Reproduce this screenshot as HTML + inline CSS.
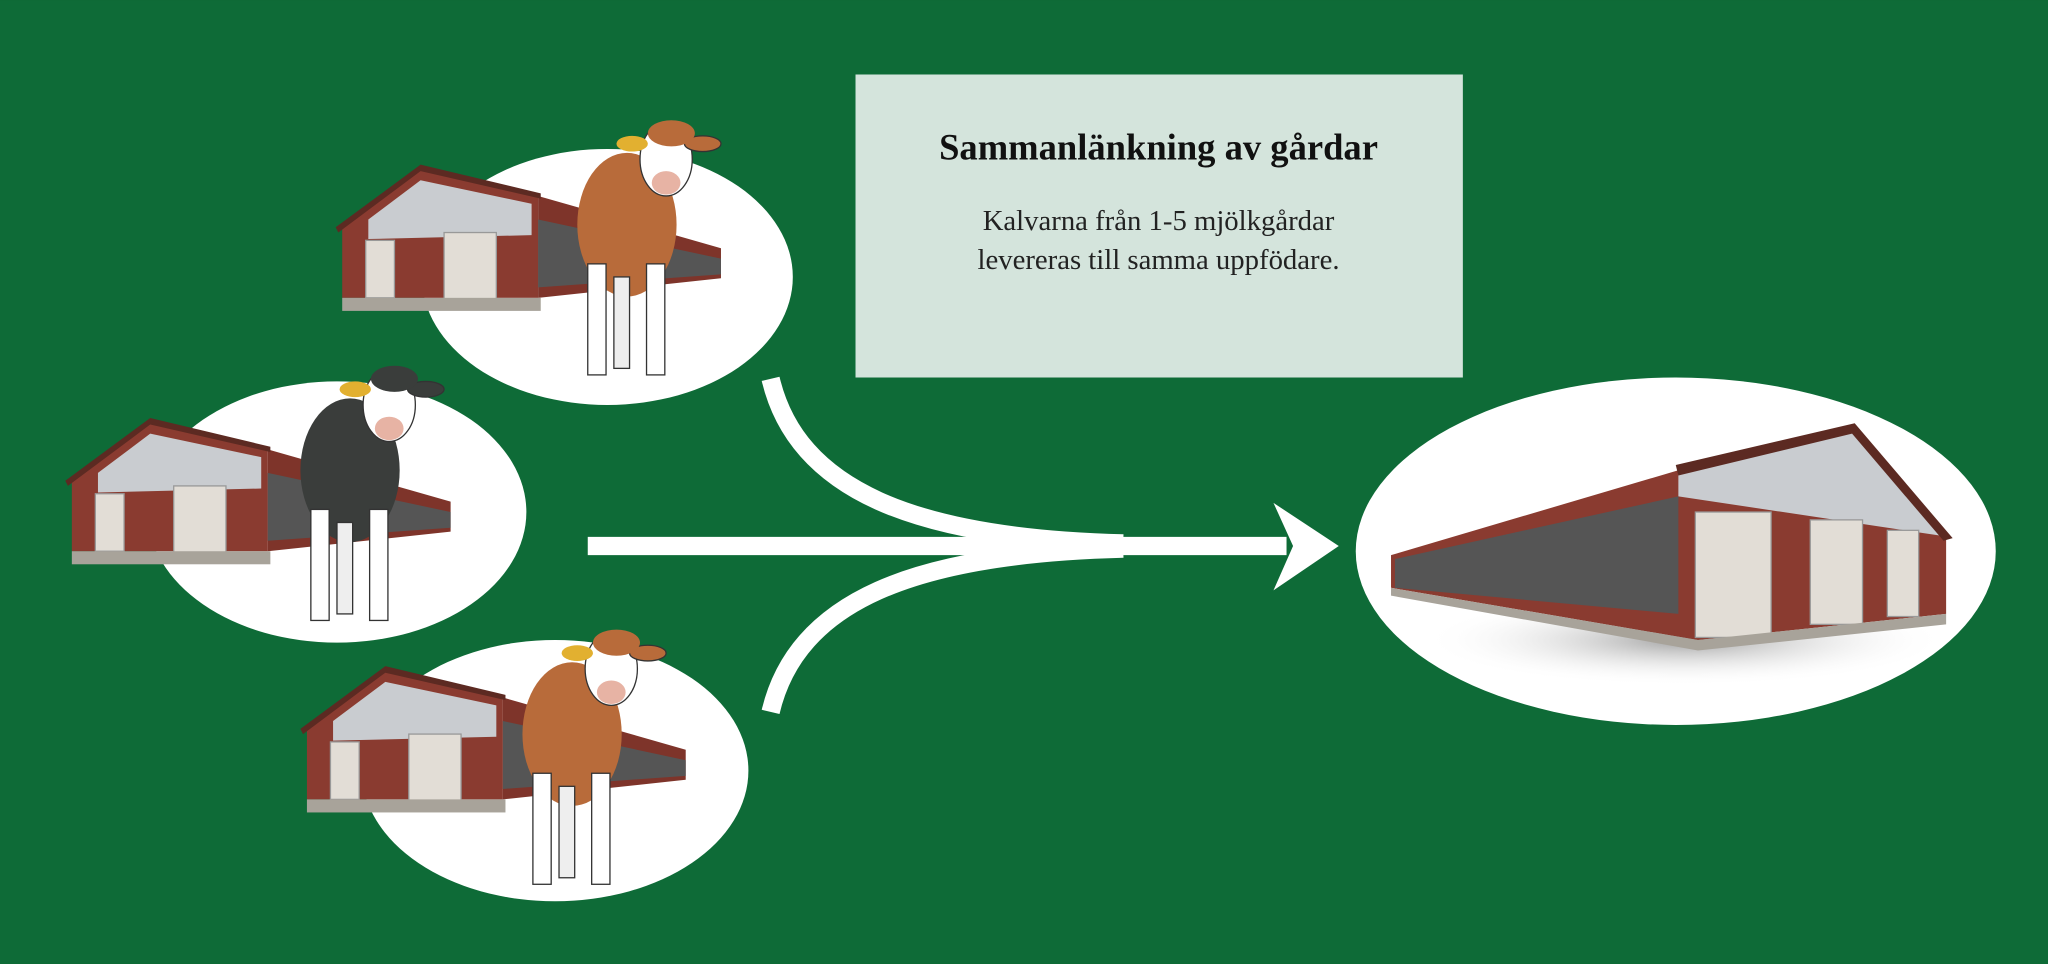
<!DOCTYPE html>
<html><head><meta charset="utf-8"><style>
html,body{margin:0;padding:0;background:#0e6b37;}
svg{display:block}
</style></head><body>
<svg width="2048" height="964" viewBox="0 0 1568 738" xmlns="http://www.w3.org/2000/svg">
<defs>
<radialGradient id="sh" cx="0.5" cy="0.5" r="0.5">
<stop offset="0" stop-color="#777" stop-opacity="0.7"/><stop offset="1" stop-color="#fff" stop-opacity="0"/>
</radialGradient>
<g id="barn">
<polygon points="0,45 60,0 150,22 150,100 0,100" fill="#8a3b30"/>
<polygon points="20,40 60,10 145,28 145,52 20,55" fill="#c9ccd0"/>
<polygon points="150,22 290,62 290,85 150,100" fill="#7e342a"/>
<polygon points="150,40 290,70 290,82 150,92" fill="#555"/>
<polygon points="-5,46 60,-2 152,20 152,24 60,3 -3,50" fill="#5c2a22"/>
<rect x="18" y="56" width="22" height="44" fill="#e2ddd6" stroke="#999"/>
<rect x="78" y="50" width="40" height="52" fill="#e2ddd6" stroke="#999"/>
<rect x="0" y="100" width="152" height="10" fill="#a8a39a"/>
</g>
<g id="cow">
<ellipse cx="40" cy="80" rx="38" ry="55" fill="currentColor"/>
<rect x="10" y="110" width="14" height="85" fill="#fff" stroke="#333"/>
<rect x="55" y="110" width="14" height="85" fill="#fff" stroke="#333"/>
<rect x="30" y="120" width="12" height="70" fill="#eee" stroke="#333"/>
<ellipse cx="70" cy="30" rx="20" ry="28" fill="#fff" stroke="#333"/>
<ellipse cx="70" cy="48" rx="11" ry="9" fill="#e7b3a4"/>
<ellipse cx="98" cy="18" rx="14" ry="6" fill="currentColor" stroke="#333"/>
<ellipse cx="44" cy="18" rx="12" ry="6" fill="#e2b030"/>
<ellipse cx="74" cy="10" rx="18" ry="10" fill="currentColor"/>
</g>
</defs>
<rect width="1568" height="738" fill="#0e6b37"/>
<ellipse cx="465" cy="212" rx="142" ry="98" fill="#fff"/>
<ellipse cx="258" cy="392" rx="145" ry="100" fill="#fff"/>
<ellipse cx="425" cy="590" rx="148" ry="100" fill="#fff"/>
<ellipse cx="1283" cy="422" rx="245" ry="133" fill="#fff"/>
<ellipse cx="1290" cy="490" rx="200" ry="35" fill="url(#sh)"/>
<use href="#barn" x="262" y="128"/>
<use href="#barn" x="55" y="322"/>
<use href="#barn" x="235" y="512"/>
<use href="#cow" x="440" y="92" style="color:#b86b3a"/>
<use href="#cow" x="228" y="280" style="color:#3a3d3b"/>
<use href="#cow" x="398" y="482" style="color:#b86b3a"/>
<polygon points="1065,425 1285,360 1420,328 1490,412 1490,470 1300,490 1065,450" fill="#8a3b30"/>
<polygon points="1285,360 1420,328 1485,410 1285,380" fill="#c9ccd0"/>
<polygon points="1068,428 1285,380 1285,470 1068,450" fill="#555"/>
<polygon points="1283,356 1420,324 1495,412 1488,414 1418,332 1285,364" fill="#5c2a22"/>
<rect x="1298" y="392" width="58" height="96" fill="#e2ddd6" stroke="#999"/>
<rect x="1386" y="398" width="40" height="80" fill="#e2ddd6" stroke="#999"/>
<rect x="1445" y="406" width="24" height="66" fill="#e2ddd6" stroke="#999"/>
<polygon points="1065,450 1300,490 1490,470 1490,478 1300,498 1065,456" fill="#a8a39a"/>
<g fill="none" stroke="#fff" stroke-width="14">
<line x1="450" y1="418" x2="985" y2="418"/>
<path d="M590,290 C610,375 700,412 860,416"/>
<path d="M590,545 C610,460 700,424 860,420"/>
</g>
<polygon points="975,385 1025,418 975,452 990,418" fill="#fff"/>
<rect x="655" y="57" width="465" height="232" fill="#d4e4dc"/>
<text x="887" y="122" text-anchor="middle" font-family="Liberation Serif, serif" font-weight="bold" font-size="28" fill="#111">Sammanlänkning av gårdar</text>
<text x="887" y="176" text-anchor="middle" font-family="Liberation Serif, serif" font-size="22" fill="#222">Kalvarna från 1-5 mjölkgårdar</text>
<text x="887" y="206" text-anchor="middle" font-family="Liberation Serif, serif" font-size="22" fill="#222">levereras till samma uppfödare.</text>
</svg>
</body></html>
